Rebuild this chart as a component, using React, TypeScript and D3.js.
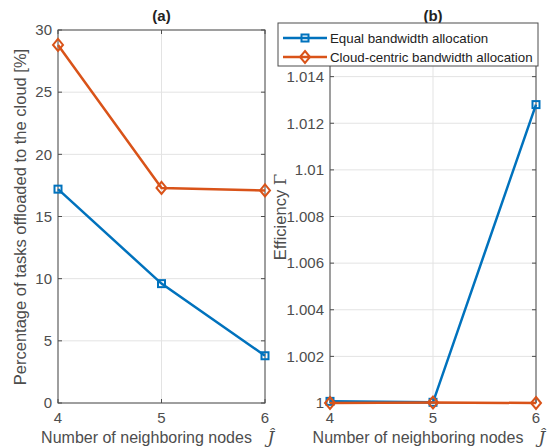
import * as d3 from "d3";

const nodes = [4, 5, 6];
const offloadEqual = [17.2, 9.6, 3.8];
const offloadCloud = [28.8, 17.3, 17.1];
const effEqual = [1.00007, 1.00003, 1.0128];
const effCloud = [1.0, 1.00002, 1.0];
const leftTicks = [0, 5, 10, 15, 20, 25, 30];
const rightTicks = [1, 1.002, 1.004, 1.006, 1.008, 1.01, 1.012, 1.014];
const seriesNames = ["Equal bandwidth allocation", "Cloud-centric bandwidth allocation"];

const BLUE = "#0072BD";
const ORANGE = "#D95319";
const AXIS = "#4d4d4d";
const GRID = "#e3e3e3";
const FONT = "'Liberation Sans', Arial, Helvetica, sans-serif";

function Square({ x, y }: { x: number; y: number }) {
  return <rect x={x - 3.5} y={y - 3.5} width={7} height={7} fill="none" stroke={BLUE} strokeWidth={2} />;
}
function Diamond({ x, y }: { x: number; y: number }) {
  return <path d={`M${x},${y - 6}L${x + 5},${y}L${x},${y + 6}L${x - 5},${y}Z`} fill="none" stroke={ORANGE} strokeWidth={2} />;
}

interface PanelProps {
  x0: number;
  x1: number;
  domain: [number, number];
  ticks: number[];
  fmt: (v: number) => string;
  equal: number[];
  cloud: number[];
  title: string;
}

function Panel({ x0, x1, domain, ticks, fmt, equal, cloud, title }: PanelProps) {
  const top = 30;
  const bottom = 403;
  const x = d3.scaleLinear().domain([4, 6]).range([x0, x1]);
  const y = d3.scaleLinear().domain(domain).range([bottom, top]);
  const line = d3
    .line<number>()
    .x((_, i) => x(nodes[i]))
    .y((d) => y(d));
  return (
    <g fontFamily={FONT}>
      {ticks.map((t) => (
        <line key={"g" + t} x1={x0} x2={x1} y1={y(t)} y2={y(t)} stroke={GRID} />
      ))}
      {nodes.map((n) => (
        <line key={"gx" + n} x1={x(n)} x2={x(n)} y1={top} y2={bottom} stroke={GRID} />
      ))}
      <rect x={x0} y={top} width={x1 - x0} height={bottom - top} fill="none" stroke={AXIS} strokeWidth={1} />
      {ticks.map((t) => (
        <g key={"t" + t}>
          <line x1={x0} x2={x0 + 4} y1={y(t)} y2={y(t)} stroke={AXIS} />
          <line x1={x1} x2={x1 - 4} y1={y(t)} y2={y(t)} stroke={AXIS} />
          <text x={x0 - 6} y={y(t)} dy="0.35em" textAnchor="end" fontSize={15} fill={AXIS}>
            {fmt(t)}
          </text>
        </g>
      ))}
      {nodes.map((n) => (
        <g key={"tx" + n}>
          <line x1={x(n)} x2={x(n)} y1={bottom} y2={bottom - 4} stroke={AXIS} />
          <line x1={x(n)} x2={x(n)} y1={top} y2={top + 4} stroke={AXIS} />
          <text x={x(n)} y={bottom + 20} textAnchor="middle" fontSize={15} fill={AXIS}>
            {n}
          </text>
        </g>
      ))}
      <path d={line(equal) || ""} fill="none" stroke={BLUE} strokeWidth={2.5} />
      {equal.map((v, i) => (
        <Square key={"s" + i} x={x(nodes[i])} y={y(v)} />
      ))}
      <path d={line(cloud) || ""} fill="none" stroke={ORANGE} strokeWidth={2.5} />
      {cloud.map((v, i) => (
        <Diamond key={"d" + i} x={x(nodes[i])} y={y(v)} />
      ))}
      <text x={(x0 + x1) / 2} y={21} textAnchor="middle" fontSize={15} fontWeight="bold" fill="#222">
        {title}
      </text>
      <text x={(x0 + x1) / 2 - 15} y={443} textAnchor="middle" fontSize={16} fill={AXIS}>
        Number of neighboring nodes
      </text>
      <text x={x1 + 6} y={443} textAnchor="middle" fontSize={17} fontStyle="italic" fontFamily="'DejaVu Serif', serif" fill={AXIS}>
        Ĵ
      </text>
    </g>
  );
}

export default function App() {
  const lx = 330;
  return (
    <svg width={550} height={448} style={{ position: "absolute", left: 0, top: 0, background: "#fff" }}>
      <Panel x0={58} x1={265} domain={[0, 30]} ticks={leftTicks} fmt={(v) => String(v)} equal={offloadEqual} cloud={offloadCloud} title="(a)" />
      <Panel x0={330} x1={536} domain={[1, 1.016]} ticks={rightTicks} fmt={(v) => d3.format("")(+v.toFixed(3))} equal={effEqual} cloud={effCloud} title="(b)" />
      <text transform="translate(26,217) rotate(-90)" textAnchor="middle" fontSize={16.5} fill={AXIS} fontFamily={FONT}>
        Percentage of tasks offloaded to the cloud [%]
      </text>
      <text transform="translate(286,217) rotate(-90)" textAnchor="middle" fontSize={16.5} fill={AXIS} fontFamily={FONT}>
        Efficiency <tspan fontFamily="'DejaVu Serif', serif">Γ</tspan>
      </text>
      <g fontFamily={FONT}>
        <rect x={278} y={23} width={260} height={43} fill="#fff" stroke={AXIS} />
        {seriesNames.map((s, i) => {
          const yy = 38 + i * 19;
          return (
            <g key={s}>
              <line x1={283} x2={327} y1={yy} y2={yy} stroke={i === 0 ? BLUE : ORANGE} strokeWidth={2.5} />
              {i === 0 ? <Square x={305} y={yy} /> : <Diamond x={305} y={yy} />}
              <text x={lx} y={yy} dy="0.35em" fontSize={13.3} fill="#222">
                {s}
              </text>
            </g>
          );
        })}
      </g>
    </svg>
  );
}
